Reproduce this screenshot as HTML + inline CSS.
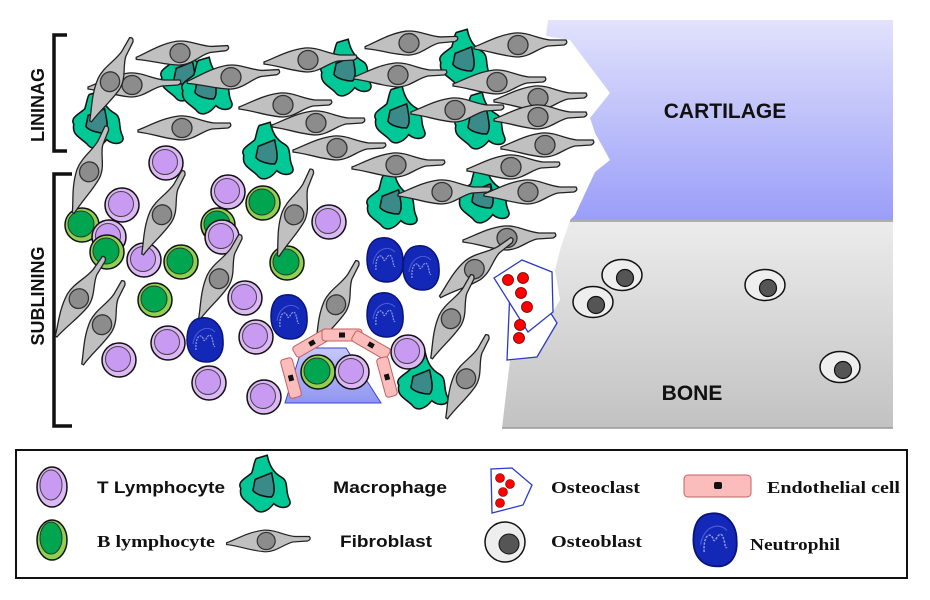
<!DOCTYPE html>
<html><head><meta charset="utf-8"><style>
html,body{margin:0;padding:0;background:#fff;width:930px;height:600px;overflow:hidden}
svg{display:block}
.lab{font-family:"Liberation Sans",sans-serif;font-weight:bold;fill:#111}
.ser{font-family:"Liberation Serif",serif;font-weight:bold;fill:#111}
</style></head><body>
<svg width="930" height="600" viewBox="0 0 930 600" xmlns="http://www.w3.org/2000/svg">
<defs>
<linearGradient id="cart" x1="0" y1="0" x2="0" y2="1"><stop offset="0" stop-color="#e2e2fc"/><stop offset="1" stop-color="#9a9ef8"/></linearGradient>
<linearGradient id="bone" x1="0" y1="0" x2="0" y2="1"><stop offset="0" stop-color="#ececec"/><stop offset="1" stop-color="#c2c2c2"/></linearGradient>
<linearGradient id="ves" x1="0" y1="0" x2="0" y2="1"><stop offset="0" stop-color="#c8c8f8"/><stop offset="1" stop-color="#8f95f0"/></linearGradient>
<g id="fib">
<path d="M-46,2 C-35,-2 -22,-10 -5,-12 C8,-13 18,-6 30,-5 L46,-5 C48,-2 46,-1 44,0 L28,1 C18,3 10,12 -3,12 C-18,11 -30,6 -46,4 Z" fill="#c0c0c0" stroke="#222" stroke-width="1.3"/>
<ellipse cx="-2" cy="0" rx="10" ry="9.5" fill="#8c8c8c" stroke="#333" stroke-width="1.3"/>
</g>
<g id="mac0">
<path d="M-8,-25 L2,-28 C4,-18 8,-12 15,-8 C22,-4 18,4 22,12 C26,20 14,22 8,16 C2,24 -6,26 -10,20 C-16,14 -24,12 -22,2 C-26,-4 -16,-8 -12,-12 C-10,-18 -10,-22 -8,-25Z" fill="#00c896" stroke="#111" stroke-width="1.4"/>
<path d="M-9,-6 L6,-12 C8,-2 10,6 6,10 C0,10 -8,8 -11,4 Z" fill="#3a8a8a" stroke="#111" stroke-width="1.4"/>
</g>
<g id="mac"><use href="#mac0" transform="scale(1.1)"/></g>
<g id="tl"><circle r="17" fill="#dcb8f5" stroke="#111" stroke-width="1.5"/><circle cx="-1" cy="-1" r="12.5" fill="#c99af2" stroke="#444" stroke-width="1"/></g>
<g id="bl"><circle r="17" fill="#8fd14f" stroke="#111" stroke-width="1.5"/><circle cx="-1" cy="-1" r="13" fill="#00a64f" stroke="#333" stroke-width="1"/></g>
<g id="neu"><path d="M-4,-22 C10,-24 18,-12 18,0 C19,12 14,22 2,22 C-12,22 -18,12 -18,0 C-18,-12 -14,-21 -4,-22Z" fill="#1428b8" stroke="#0a1478" stroke-width="1.5"/>
<path d="M-9,10 C-10,0 -6,-8 -2,-2 C0,6 2,-8 6,-4 C9,2 8,8 10,6" fill="none" stroke="#8f9ae8" stroke-width="1.2" stroke-dasharray="2,1"/>
<path d="M-12,4 C-10,-10 2,-16 10,-8" fill="none" stroke="#4a5ad8" stroke-width="1"/></g>
<g id="ob"><ellipse rx="20" ry="15.5" fill="#eeeeee" stroke="#111" stroke-width="1.5"/><circle cx="3" cy="3" r="8.5" fill="#555" stroke="#111" stroke-width="1.2"/></g>
<g id="endo"><rect x="-20" y="-6" width="40" height="12" rx="3" fill="#fbbcbc" stroke="#c46060" stroke-width="1"/><rect x="-3" y="-2.5" width="6" height="5" fill="#111"/></g>
</defs>

<path d="M548,20 L893,20 L893,220 L570,220 L575,215 L595,172 L610,160 L595,133 L590,118 L610,93 L570,40 L546,36 Z" fill="url(#cart)"/>
<path d="M570,220 L893,220 L893,428 L502,428 L510,360 L520,340 L548,320 L560,300 L555,270 L560,250 Z" fill="url(#bone)"/>
<line x1="570" y1="221" x2="893" y2="221" stroke="#999" stroke-width="1.5"/>
<line x1="502" y1="428" x2="893" y2="428" stroke="#999" stroke-width="1.5"/>

<path d="M67,35 L54,35 L54,151 L67,151" fill="none" stroke="#111" stroke-width="3.5"/>
<path d="M72,174 L54,174 L54,426 L72,426" fill="none" stroke="#111" stroke-width="3.5"/>
<text class="lab" font-size="18" transform="translate(44,105) rotate(-90)" text-anchor="middle">LININAG</text>
<text class="lab" font-size="18" transform="translate(44,296) rotate(-90)" text-anchor="middle">SUBLINING</text>
<text class="lab" font-size="21" x="725" y="118" text-anchor="middle">CARTILAGE</text>
<text class="lab" font-size="21" x="692" y="400" text-anchor="middle">BONE</text>

<path d="M302,348 L346,348 L381,403 L285,403 Z" fill="url(#ves)" stroke="#3a44d0" stroke-width="1"/>

<use href="#mac" x="186" y="75"/><use href="#mac" x="207" y="88"/><use href="#mac" x="98" y="122"/>
<use href="#mac" x="346" y="70"/><use href="#mac" x="465" y="60"/><use href="#mac" x="400" y="117"/>
<use href="#mac" x="480" y="123"/><use href="#mac" x="268" y="153"/><use href="#mac" x="392" y="203"/>
<use href="#mac" x="484" y="197"/><use href="#mac" x="423" y="383"/>

<use href="#tl" x="166" y="163"/><use href="#tl" x="122" y="205"/>
<use href="#bl" x="82" y="225"/><use href="#tl" x="109" y="237"/><use href="#bl" x="107" y="252"/>
<use href="#tl" x="144" y="260"/><use href="#bl" x="181" y="262"/><use href="#bl" x="155" y="300"/>
<use href="#tl" x="228" y="192"/><use href="#bl" x="218" y="225"/><use href="#tl" x="222" y="237"/>
<use href="#bl" x="263" y="203"/><use href="#tl" x="329" y="222"/><use href="#bl" x="287" y="263"/>
<use href="#tl" x="245" y="298"/><use href="#tl" x="256" y="337"/><use href="#tl" x="119" y="360"/>
<use href="#tl" x="168" y="343"/><use href="#tl" x="209" y="383"/><use href="#tl" x="264" y="397"/>
<use href="#tl" x="408" y="352"/>

<use href="#fib" transform="translate(182,53) rotate(-3)"/>
<use href="#fib" transform="translate(134,85)"/>
<use href="#fib" transform="translate(233,77) rotate(-3)"/>
<use href="#fib" transform="translate(111,80) rotate(-60)"/>
<use href="#fib" transform="translate(310,60)"/>
<use href="#fib" transform="translate(411,43) rotate(-2)"/>
<use href="#fib" transform="translate(400,75)"/>
<use href="#fib" transform="translate(285,105)"/>
<use href="#fib" transform="translate(318,123)"/>
<use href="#fib" transform="translate(184,128)"/>
<use href="#fib" transform="translate(339,148)"/>
<use href="#fib" transform="translate(398,165)"/>
<use href="#fib" transform="translate(457,110)"/>
<use href="#fib" transform="translate(499,82)"/>
<use href="#fib" transform="translate(520,45)"/>
<use href="#fib" transform="translate(540,98)"/>
<use href="#fib" transform="translate(540,117)"/>
<use href="#fib" transform="translate(547,145)"/>
<use href="#fib" transform="translate(513,167)"/>
<use href="#fib" transform="translate(444,192)"/>
<use href="#fib" transform="translate(530,192)"/>
<use href="#fib" transform="translate(509,238)"/>
<use href="#fib" transform="translate(90,170) rotate(-65)"/>
<use href="#fib" transform="translate(163,213) rotate(-60)"/>
<use href="#fib" transform="translate(80,297) rotate(-55)"/>
<use href="#fib" transform="translate(103,323) rotate(-60)"/>
<use href="#fib" transform="translate(220,277) rotate(-60)"/>
<use href="#fib" transform="translate(295,213) rotate(-65)"/>
<use href="#fib" transform="translate(337,303) rotate(-60)"/>
<use href="#fib" transform="translate(476,268) rotate(-35)"/>
<use href="#fib" transform="translate(452,317) rotate(-60)"/>
<use href="#fib" transform="translate(467,377) rotate(-60)"/>

<use href="#neu" x="385" y="260"/><use href="#neu" x="421" y="268"/><use href="#neu" x="289" y="317"/>
<use href="#neu" x="385" y="315"/><use href="#neu" x="205" y="340"/>

<use href="#endo" transform="translate(291,378) rotate(75)"/>
<use href="#endo" transform="translate(312,343) rotate(-30)"/>
<use href="#endo" transform="translate(342,335)"/>
<use href="#endo" transform="translate(371,345) rotate(30)"/>
<use href="#endo" transform="translate(387,377) rotate(75)"/>
<use href="#bl" x="318" y="372"/><use href="#tl" x="352" y="372"/>

<path d="M510,290 L550,312 L557,323 L537,357 L507,360 Z" fill="#fff" stroke="#2a3ac8" stroke-width="1.3"/>
<path d="M494,278 L522,260 L552,272 L553,312 L528,332 Z" fill="#fff" stroke="#2a3ac8" stroke-width="1.3"/>
<g fill="#f00" stroke="#600" stroke-width="0.8">
<circle cx="508" cy="280" r="5.5"/><circle cx="523" cy="278" r="5.5"/><circle cx="521" cy="293" r="5.5"/>
<circle cx="527" cy="307" r="5.5"/><circle cx="520" cy="325" r="5.5"/><circle cx="519" cy="338" r="5.5"/></g>

<use href="#ob" x="622" y="275"/><use href="#ob" x="593" y="302"/><use href="#ob" x="765" y="285"/><use href="#ob" x="840" y="367"/>

<rect x="16" y="450" width="891" height="128" fill="#fff" stroke="#111" stroke-width="2"/>
<ellipse cx="52" cy="487" rx="15" ry="20" fill="#dcb8f5" stroke="#111" stroke-width="1.5"/>
<ellipse cx="51" cy="485" rx="11" ry="15" fill="#c99af2" stroke="#444"/>
<ellipse cx="52" cy="540" rx="15" ry="20" fill="#8fd14f" stroke="#111" stroke-width="1.5"/>
<ellipse cx="51" cy="538" rx="11" ry="16" fill="#00a64f" stroke="#333"/>
<text class="lab" font-size="17" x="97" y="493" textLength="128" lengthAdjust="spacingAndGlyphs">T Lymphocyte</text>
<text class="ser" font-size="17" x="97" y="547" textLength="118" lengthAdjust="spacingAndGlyphs">B lymphocyte</text>
<use href="#mac" x="265" y="486"/>
<use href="#fib" transform="translate(268,541) scale(0.9)"/>
<text class="lab" font-size="17" x="333" y="493" textLength="114" lengthAdjust="spacingAndGlyphs">Macrophage</text>
<text class="lab" font-size="17" x="340" y="547" textLength="92" lengthAdjust="spacingAndGlyphs">Fibroblast</text>
<path d="M491,469 L512,468 L532,485 L523,505 L492,513 Z" fill="#fff" stroke="#2a3ac8" stroke-width="1.3"/>
<g fill="#f00" stroke="#600" stroke-width="0.6"><circle cx="500" cy="478" r="4.5"/><circle cx="510" cy="484" r="4.5"/><circle cx="503" cy="492" r="4.5"/><circle cx="500" cy="503" r="4.5"/></g>
<ellipse cx="505" cy="542" rx="20" ry="20" fill="#eee" stroke="#111" stroke-width="1.5"/>
<circle cx="509" cy="544" r="10" fill="#555" stroke="#111"/>
<text class="ser" font-size="17" x="551" y="493" textLength="89" lengthAdjust="spacingAndGlyphs">Osteoclast</text>
<text class="ser" font-size="17" x="551" y="547" textLength="91" lengthAdjust="spacingAndGlyphs">Osteoblast</text>
<rect x="684" y="475" width="67" height="22" rx="4" fill="#fbbcbc" stroke="#c46060"/>
<rect x="714" y="482" width="8" height="7" rx="2" fill="#111"/>
<use href="#neu" transform="translate(715,540) scale(1.2)"/>
<text class="ser" font-size="17" x="767" y="493" textLength="133" lengthAdjust="spacingAndGlyphs">Endothelial cell</text>
<text class="ser" font-size="17" x="750" y="550" textLength="90" lengthAdjust="spacingAndGlyphs">Neutrophil</text>
</svg>
</body></html>
